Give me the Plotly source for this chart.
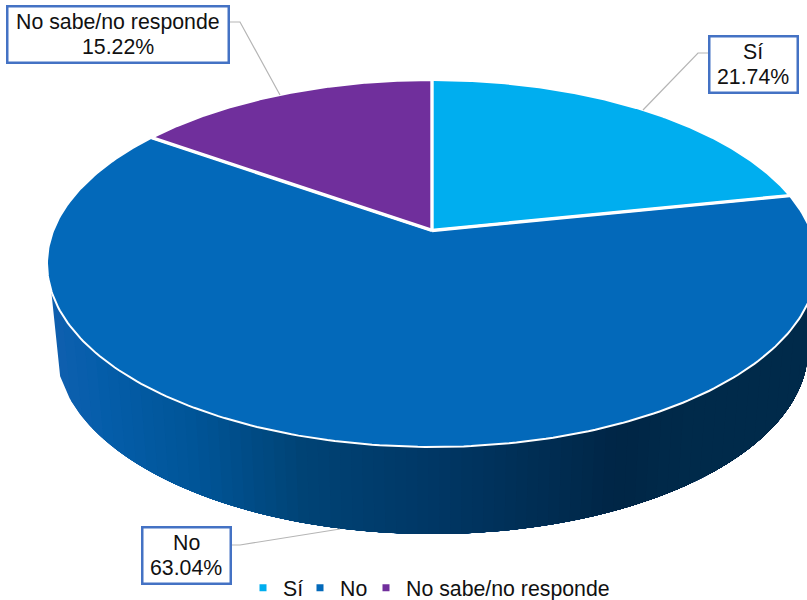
import numpy as np
import plotly.graph_objects as go

categories = ["Sí", "No", "No sabe/no responde"]
values = [21.74, 63.04, 15.22]
slice_colors = ["#00AEEF", "#0369BA", "#702F9C"]

W, H = 807, 600
FONT = "Liberation Sans, Arial, sans-serif"
FS = 21.3
# top disc geometry (pixels)
CX, CY, A, B, K = 432.0, 263.5, 385.0, 183.5, 0.18
# bottom rim ellipse
BCX, BCY, BA, BB = 432.0, 349.0, 376.0, 185.0
# wall shading (screen x -> colour)
shade_x = [48, 100, 200, 300, 430, 540, 620, 680, 807]
shade_rgb = [(16, 96, 176), (5, 94, 170), (0, 84, 150), (0, 68, 118), (0, 56, 102),
             (0, 46, 84), (0, 38, 70), (0, 42, 74), (0, 42, 74)]


def project(theta):
    """Clockwise angle from 12 o'clock to a screen point on the perspective disc."""
    x, y = np.sin(theta), np.cos(theta)
    d = 1 + K * y
    xp = x * np.sqrt(1 - K * K) / d
    yp = (y + K) / d
    return CX + A * xp, CY - B * yp


fig = go.Figure()

# side wall: painted left to right, each band runs to the far end so no seams show
edges = np.linspace(-0.989, 1.0, 70)
for i in range(len(edges) - 1):
    us = np.linspace(edges[i], 1.0, 80)
    sq = np.sqrt(np.clip(1 - us ** 2, 0, None))
    tx, ty = CX + A * us, CY + B * sq
    bx, by = BCX + BA * us, BCY + BB * sq
    xs = np.concatenate([tx, bx[::-1], tx[:1]])
    ys = np.concatenate([ty, by[::-1], ty[:1]])
    mid = CX + A * (edges[i] + edges[i + 1]) / 2
    rgb = [int(np.interp(mid, shade_x, [c[j] for c in shade_rgb])) for j in range(3)]
    col = f"rgb({rgb[0]},{rgb[1]},{rgb[2]})"
    fig.add_trace(go.Scatter(x=xs, y=ys, mode="lines", fill="toself", fillcolor=col,
                             line=dict(color=col, width=0), showlegend=False, hoverinfo="skip"))

# top slices, drawn from the values
total = sum(values)
start = 0.0
ax, ay = CX, CY - B * K
for name, v, c in zip(categories, values, slice_colors):
    t0 = start / total * 2 * np.pi
    t1 = (start + v) / total * 2 * np.pi
    th = np.linspace(t0, t1, 240)
    px, py = project(th)
    fig.add_trace(go.Scatter(x=np.r_[ax, px, ax], y=np.r_[ay, py, ay], mode="lines", fill="toself",
                             fillcolor=c, line=dict(color="white", width=2.0), name=name,
                             showlegend=False, hovertemplate=f"{name}: {v:.2f}%<extra></extra>"))
    start += v

# white dividers between slices
start = 0.0
for v in values:
    ex, ey = project(np.array([start / total * 2 * np.pi]))
    fig.add_trace(go.Scatter(x=[ax, ex[0]], y=[ay, ey[0]], mode="lines",
                             line=dict(color="white", width=3.4), showlegend=False, hoverinfo="skip"))
    start += v

# leader lines
leaders = [([643, 698, 709], [110, 53, 53]), ([228, 240, 280], [22, 22, 95]), ([230, 240, 340], [545, 545, 529])]
for lx, ly in leaders:
    fig.add_trace(go.Scatter(x=lx, y=ly, mode="lines", line=dict(color="#B5B5B5", width=1.2),
                             showlegend=False, hoverinfo="skip"))

# legend entries, one small legend each so that they sit where the reference has them
legend_text_x = [282, 339, 405]
legend_ids = ["legend", "legend2", "legend3"]
legends = {}
for name, c, lid, tx0 in zip(categories, slice_colors, legend_ids, legend_text_x):
    fig.add_trace(go.Scatter(x=[None], y=[None], mode="markers", name=name, legend=lid,
                             marker=dict(symbol="square", size=7, color=c)))
    legends[lid] = dict(x=(tx0 - 39) / W, y=1 - 588 / H, xanchor="left", yanchor="middle",
                        font=dict(family=FONT, size=FS, color="#111111"), itemwidth=30,
                        bgcolor="rgba(0,0,0,0)")

# data labels
boxes = {"Sí": (753, 64.5, 86), "No": (186, 555.5, 86), "No sabe/no responde": (117.5, 34, 219)}
for name, v in zip(categories, values):
    bx, by, bw = boxes[name]
    fig.add_annotation(x=bx, y=by, xref="x", yref="y", text=" ", showarrow=False,
                       width=bw, height=54, bgcolor="white",
                       bordercolor="#4472C4", borderwidth=2.5, borderpad=0,
                       font=dict(family=FONT, size=FS))
    for txt, dy in ((name, -12.5), (f"{v:.2f}%", 12.5)):
        fig.add_annotation(x=bx, y=by + dy, xref="x", yref="y", text=txt, showarrow=False,
                           align="center", borderpad=0, borderwidth=0,
                           font=dict(family=FONT, size=FS, color="#111111"))

fig.update_layout(
    width=W, height=H, margin=dict(l=0, r=0, t=0, b=0, autoexpand=False),
    paper_bgcolor="white", plot_bgcolor="white",
    xaxis=dict(range=[0, W], visible=False, fixedrange=True),
    yaxis=dict(range=[H, 0], visible=False, fixedrange=True),
    font=dict(family=FONT),
    **legends,
)
fig.write_html("out.html", config=dict(displayModeBar=False),
               post_script="document.body.style.margin='0';document.body.style.overflow='hidden';")
